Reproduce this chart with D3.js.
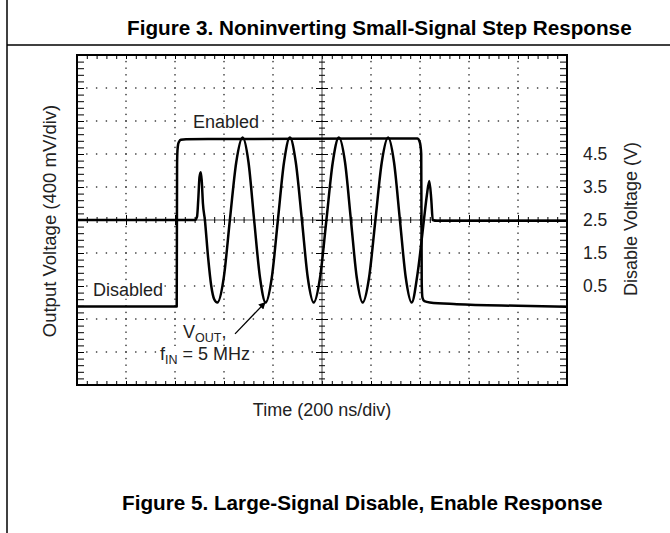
<!DOCTYPE html>
<html>
<head>
<meta charset="utf-8">
<script src="https://cdn.jsdelivr.net/npm/d3@7"></script>
<style>
  body { margin: 0; background: #fff; }
  svg { display: block; font-family: "Liberation Sans", Arial, Helvetica, sans-serif; }
</style>
</head>
<body>
<div id="chart"></div>
<script>
// output voltage trace (time in ns, mV relative to center)
const outTime = [0, 300, 482, 490, 495, 500, 505, 509, 514, 522, 535, 548, 560, 573,
  599, 624, 650, 676, 700, 723, 747, 770, 795, 820, 845, 869, 893, 918, 942, 966,
  992, 1018, 1044, 1069, 1094, 1118, 1142, 1166, 1192, 1218, 1244, 1270, 1294, 1318,
  1342, 1366, 1390, 1416, 1428, 1438, 1446, 1452, 1470, 1700, 2000];
const outMv = [0, 0, 0, 40, 250, 520, 580, 480, 200, 0, -450, -800, -960, -1000,
  -700, 0, 700, 1000, 700, 0, -700, -1000, -700, 0, 700, 1000, 700, 0, -700, -1000,
  -700, 0, 700, 1000, 700, 0, -700, -1000, -700, 0, 700, 1000, 700, 0,
  -700, -1000, -650, 0, 300, 473, 250, 0, -10, -10, -10];

// disable pin voltage (time in ns, V)
const disTime = [0, 200, 407, 408.5, 410, 413, 417, 424, 445, 900, 1390, 1397, 1402, 1405, 1407, 1410, 1418, 1440, 1550, 1800, 2000];
const disVolt = [-0.12, -0.12, -0.12, 4.2, 4.6, 4.8, 4.88, 4.93, 4.95, 4.96, 4.97, 4.9, 4.75, 4.5, 0.6, 0.15, 0.04, 0.0, -0.05, -0.1, -0.13];

const disTicks = [0.5, 1.5, 2.5, 3.5, 4.5];

const W = 670, H = 533;
const svg = d3.select("#chart").append("svg")
    .attr("width", W)
    .attr("height", H);

// page rules
svg.append("line").attr("x1", 7).attr("x2", 7).attr("y1", 0).attr("y2", H)
    .attr("stroke", "#000").attr("stroke-width", 1.5);
svg.append("line").attr("x1", 7).attr("x2", W).attr("y1", 45).attr("y2", 45)
    .attr("stroke", "#000").attr("stroke-width", 1.5);

svg.append("text").attr("x", 127).attr("y", 35)
    .attr("font-weight", "bold").attr("font-size", 20.7)
    .text("Figure 3. Noninverting Small-Signal Step Response");

const x = d3.scaleLinear().domain([0, 2000]).range([77, 567]);
const yOut = d3.scaleLinear().domain([-2000, 2000]).range([385, 55]);
const yDis = d3.scaleLinear().domain([-2.5, 7.5]).range([385, 55]);

const minorX = d3.range(0, 2001, 40);
const minorY = d3.range(-2000, 2001, 80);
const majorX = d3.range(200, 2000, 200);
const majorY = d3.range(-1600, 2000, 400);

// dotted grid
let grid = svg.append("g").attr("fill", "#333");
for (let t of majorX) {
    if (t == 1000) continue;
    for (let v of minorY) {
        grid.append("rect").attr("x", x(t) - 0.7).attr("y", yOut(v) - 0.7)
            .attr("width", 1.4).attr("height", 1.4);
    }
}
for (let v of majorY) {
    if (v == 0) continue;
    for (let t of minorX) {
        grid.append("rect").attr("x", x(t) - 0.7).attr("y", yOut(v) - 0.7)
            .attr("width", 1.4).attr("height", 1.4);
    }
}

function tickAxis(axis, tx, ty, width) {
    let g = svg.append("g").attr("transform", `translate(${tx},${ty})`).call(axis);
    g.select(".domain").remove();
    g.selectAll("text").remove();
    g.selectAll("line").attr("stroke", "#000").attr("stroke-width", width || 1);
    return g;
}

// edge ticks
tickAxis(d3.axisBottom(x).tickValues(minorX).tickSize(4), 0, 55);
tickAxis(d3.axisTop(x).tickValues(minorX).tickSize(4), 0, 385);
tickAxis(d3.axisRight(yOut).tickValues(minorY).tickSize(7), 77, 0);
tickAxis(d3.axisLeft(yOut).tickValues(minorY).tickSize(7), 567, 0);

// center axes with crossing ticks
svg.append("line").attr("x1", x(0)).attr("x2", x(2000)).attr("y1", yOut(0)).attr("y2", yOut(0))
    .attr("stroke", "#444").attr("stroke-width", 1);
svg.append("line").attr("x1", x(1000)).attr("x2", x(1000)).attr("y1", yOut(-2000)).attr("y2", yOut(2000))
    .attr("stroke", "#444").attr("stroke-width", 1);
tickAxis(d3.axisBottom(x).tickValues(minorX).tickSize(6), 0, yOut(0) - 3);
tickAxis(d3.axisBottom(x).tickValues(majorX).tickSize(10), 0, yOut(0) - 5);
tickAxis(d3.axisRight(yOut).tickValues(minorY).tickSize(6), x(1000) - 3, 0);
tickAxis(d3.axisRight(yOut).tickValues(majorY).tickSize(12), x(1000) - 6, 0);

// frame
svg.append("rect").attr("x", x(0)).attr("y", yOut(2000))
    .attr("width", x(2000) - x(0)).attr("height", yOut(-2000) - yOut(2000))
    .attr("fill", "none").attr("stroke", "#000").attr("stroke-width", 2);

// traces
const outLine = d3.line()
    .x((d, i) => x(outTime[i]))
    .y(d => yOut(d))
    .curve(d3.curveMonotoneX);
const disLine = d3.line()
    .x((d, i) => x(disTime[i]))
    .y(d => yDis(d))
    .curve(d3.curveMonotoneX);

svg.append("path").attr("d", disLine(disVolt))
    .attr("fill", "none").attr("stroke", "#000").attr("stroke-width", 2.5)
    .attr("stroke-linejoin", "round");
svg.append("path").attr("d", outLine(outMv))
    .attr("fill", "none").attr("stroke", "#000").attr("stroke-width", 2.5)
    .attr("stroke-linejoin", "round");

// right axis labels
let ra = svg.append("g").attr("transform", `translate(${x(2000)},0)`)
    .call(d3.axisRight(yDis).tickValues(disTicks).tickSize(0).tickPadding(16).tickFormat(d3.format(".1f")));
ra.select(".domain").remove();
ra.selectAll("text").attr("font-size", 17.5).attr("fill", "#222")
    .attr("font-family", "Liberation Sans, Arial, sans-serif");

// axis titles
svg.append("text").attr("transform", "translate(56,221) rotate(-90)")
    .attr("text-anchor", "middle").attr("font-size", 18.5).attr("fill", "#222")
    .text("Output Voltage (400 mV/div)");
svg.append("text").attr("transform", "translate(637,219) rotate(-90)")
    .attr("text-anchor", "middle").attr("font-size", 18).attr("fill", "#222")
    .text("Disable Voltage (V)");
svg.append("text").attr("x", x(1000)).attr("y", 416)
    .attr("text-anchor", "middle").attr("font-size", 18).attr("fill", "#222")
    .text("Time (200 ns/div)");

// annotations with white backing
function label(px, py, build) {
    let g = svg.append("g");
    let bg = g.append("rect").attr("fill", "#fff");
    let t = g.append("text").attr("x", px).attr("y", py)
        .attr("font-size", 18).attr("fill", "#222");
    build(t);
    let b = t.node().getBBox();
    bg.attr("x", b.x - 1).attr("y", b.y + 2).attr("width", b.width + 2).attr("height", b.height - 3);
}
label(193, 128, t => t.text("Enabled"));
label(93, 295.5, t => t.text("Disabled"));
label(183, 337.5, t => {
    t.append("tspan").text("V");
    t.append("tspan").attr("font-size", 12.5).attr("dy", 4).text("OUT");
    t.append("tspan").attr("dy", -4).text(",");
});
label(160, 360, t => {
    t.append("tspan").text("f");
    t.append("tspan").attr("font-size", 12.5).attr("dy", 4).text("IN");
    t.append("tspan").attr("dy", -4).text(" = 5 MHz");
});

// arrow to the trough
svg.append("defs").append("marker")
    .attr("id", "arr").attr("viewBox", "0 0 10 10")
    .attr("refX", 9).attr("refY", 5)
    .attr("markerWidth", 9).attr("markerHeight", 7)
    .attr("markerUnits", "userSpaceOnUse")
    .attr("orient", "auto")
    .append("path").attr("d", "M0,0 L10,5 L0,10 z").attr("fill", "#000");
svg.append("line")
    .attr("x1", x(645)).attr("y1", yOut(-1380))
    .attr("x2", x(768)).attr("y2", yOut(-1000))
    .attr("stroke", "#000").attr("stroke-width", 1.3)
    .attr("marker-end", "url(#arr)");

svg.append("text").attr("x", 122).attr("y", 510)
    .attr("font-weight", "bold").attr("font-size", 20.7)
    .text("Figure 5. Large-Signal Disable, Enable Response");
</script>
</body>
</html>
